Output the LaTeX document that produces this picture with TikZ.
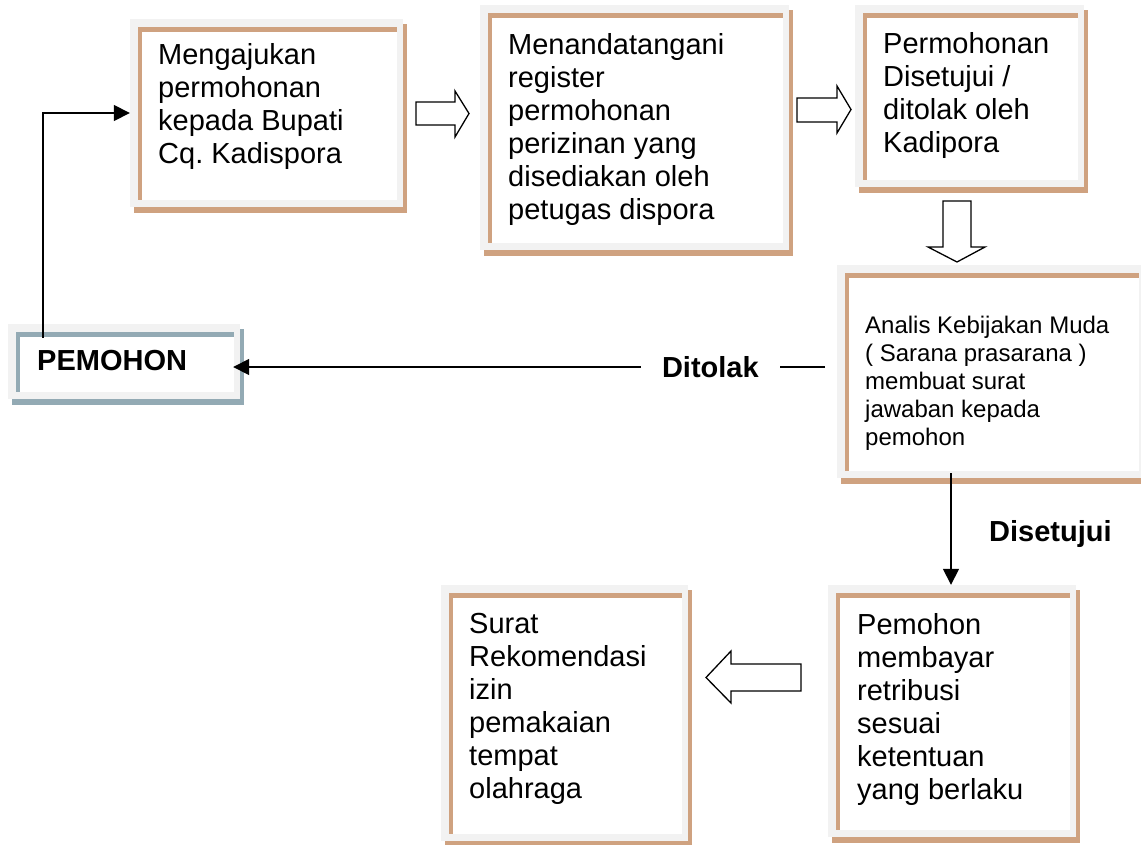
\documentclass[tikz,border=0pt]{standalone}
\usepackage{fontspec}
\setmainfont{Liberation Sans}
\usetikzlibrary{arrows.meta}
\definecolor{panelbrown}{RGB}{207,162,128}
\definecolor{panelgray}{RGB}{242,242,242}
\definecolor{panelsteel}{RGB}{147,170,180}
\frenchspacing

\newcommand\mkpanel[6]{%
  \fill[#6] (#2+4,#3+5) rectangle (#4+4,#5+6);
  \node[panelbg, minimum width={(#4-#2)*1pt}, minimum height={(#5-#3)*1pt}] (#1) at ({(#2+#4)/2},{(#3+#5)/2}) {};
  \fill[#6] (#2+8,#3+8) rectangle (#4-6,#3+12.5);
  \fill[#6] (#2+8,#3+8) rectangle (#2+11.5,#5-7);
  \fill[white] (#2+11.5,#3+12.5) rectangle (#4-6,#5-7);
}

\begin{document}
\frenchspacing
\begin{tikzpicture}[x=1pt,y=-1pt,
  panelbg/.style={rectangle, fill=panelgray, draw=none, inner sep=0pt},
  txt/.style={anchor=north west, inner sep=0pt, align=left, font=\frenchspacing\fontsize{29}{33}\selectfont},
  boldtxt/.style={txt, font=\bfseries\fontsize{29}{33}\selectfont},
  conn/.style={line width=1.6pt, -{Triangle[length=16pt,width=16pt]}},
  blockarrow/.style={draw=black, line width=1.3pt, fill=white, line join=miter}]
\useasboundingbox (0,0) rectangle (1141,844);
\clip (0,0) rectangle (1141,844);

% panels
\mkpanel{b1}{130}{19}{403}{207}{panelbrown}
\mkpanel{b2}{480}{5}{789}{250}{panelbrown}
\mkpanel{b3}{855}{5}{1084}{187}{panelbrown}
\mkpanel{an}{837}{265}{1145}{478}{panelbrown}
\mkpanel{pem}{8}{324}{240}{399}{panelsteel}
\mkpanel{pay}{828}{585}{1076}{837}{panelbrown}
\mkpanel{rec}{441}{585}{688}{841}{panelbrown}

% texts
\node[txt] (t1) at (158,43.5) {Mengajukan\\permohonan\\kepada Bupati\\Cq. Kadispora};
\node[txt] (t2) at (508,33) {Menandatangani\\register\\permohonan\\perizinan yang\\disediakan oleh\\petugas dispora};
\node[txt] (t3) at (883,32) {Permohonan\\Disetujui /\\ditolak oleh\\Kadipora};
\node[txt, font=\fontsize{24}{28}\selectfont] (t4) at (865,316) {Analis Kebijakan Muda\\( Sarana prasarana )\\membuat surat\\jawaban kepada\\pemohon};
\node[boldtxt] (t5) at (37,350) {PEMOHON};
\node[txt] (t6) at (857,613) {Pemohon\\membayar\\retribusi\\sesuai\\ketentuan\\yang berlaku};
\node[txt] (t7) at (469,613) {Surat\\Rekomendasi\\izin\\pemakaian\\tempat\\olahraga};

% block arrows
\draw[blockarrow] (416,102) -- (455,102) -- (455,91) -- (469,113.5) -- (455,137) -- (455,125) -- (416,125) -- cycle;
\draw[blockarrow] (797,98) -- (837,98) -- (837,86) -- (851,109.5) -- (837,133) -- (837,122) -- (797,122) -- cycle;
\draw[blockarrow] (943,201) -- (971,201) -- (971,247) -- (985,247) -- (957,262) -- (928,247) -- (943,247) -- cycle;
\draw[blockarrow] (801,664) -- (731,664) -- (731,651) -- (706,677.5) -- (731,703) -- (731,691) -- (801,691) -- cycle;

% connectors
\draw[conn] ([shift={(35,14)}]pem.north west) |- (b1.west);
\coordinate (dstart) at (825,367);
\draw[conn, shorten >=-7pt] (dstart) -- (pem.east |- dstart)
  node[pos=0.196, fill=white, inner xsep=21pt, inner ysep=2pt, font=\bfseries\fontsize{29}{33}\selectfont] (dl) {Ditolak};
\draw[conn] ([xshift=-40pt, yshift=5pt]an.south) -- ([xshift=-40pt]an.south |- pay.north);
\node[boldtxt] (dis) at (989,520) {Disetujui};
\end{tikzpicture}
\end{document}
